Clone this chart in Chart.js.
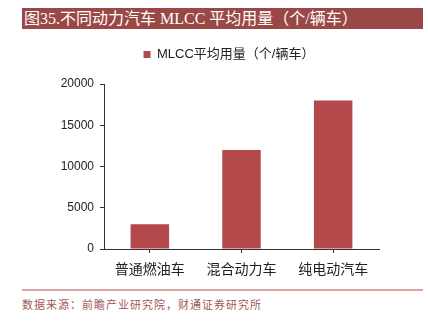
<!DOCTYPE html>
<html><head><meta charset="utf-8">
<script src="https://cdn.jsdelivr.net/npm/chart.js@4/dist/chart.umd.min.js"></script>
<style>
html,body{margin:0;padding:0;background:#fff;width:428px;height:323px;overflow:hidden;position:relative}
#title{position:absolute;left:22px;top:8px;width:401px;height:21px;background:#9a4846;color:#fff;
 font-family:"Liberation Serif","Noto Sans CJK SC",serif;font-size:16px;line-height:21px;padding-left:2px;box-sizing:border-box;white-space:nowrap}
#line{position:absolute;left:22px;top:289px;width:401px;height:2px;background:#dba3a3}
#src{position:absolute;left:22px;top:296px;color:#a0585a;font-family:"Liberation Serif","Noto Sans CJK SC",serif;font-size:11px;letter-spacing:1px;white-space:nowrap}
#wrap{position:absolute;left:0;top:35px;width:428px;height:245px}
</style></head><body>
<div id="title">图35.不同动力汽车 MLCC 平均用量（个/辆车）</div>
<div id="wrap"><canvas id="c"></canvas></div>
<div id="line"></div>
<div id="src">数据来源：前瞻产业研究院，财通证券研究所</div>
<script>
const categories = ["普通燃油车", "混合动力车", "纯电动汽车"];
const seriesName = "MLCC平均用量（个/辆车）";
const values = [3000, 12000, 18000];
const yTicks = [0, 5000, 10000, 15000, 20000];

const legendSpace = {
  id: 'legendSpace',
  afterInit(chart) {
    const lg = chart.legend;
    if (!lg) return;
    const orig = lg.fit;
    lg.fit = function () { orig.call(this); this.height += 13; };
  }
};

new Chart(document.getElementById('c'), {
  type: 'bar',
  data: {
    labels: categories,
    datasets: [{
      label: seriesName,
      data: values,
      backgroundColor: '#b3494a',
      borderWidth: 0,
      categoryPercentage: 0.84,
      barPercentage: 0.5
    }]
  },
  plugins: [legendSpace],
  options: {
    responsive: true,
    maintainAspectRatio: false,
    animation: false,
    layout: { padding: { left: 30, right: 0, top: 3, bottom: 0 } },
    plugins: {
      tooltip: { enabled: false },
      legend: {
        position: 'top',
        labels: {
          boxWidth: 7, boxHeight: 7, padding: 10,
          color: '#222',
          font: { family: 'Liberation Sans, Noto Sans CJK SC, sans-serif', size: 13 }
        }
      }
    },
    scales: {
      x: {
        offset: true,
        grid: { display: true, drawOnChartArea: false, offset: false, color: '#333', tickLength: 4 },
        border: { color: '#333', width: 1 },
        ticks: { color: '#222', padding: 7, font: { family: 'Noto Sans CJK SC, sans-serif', size: 14 } },
        afterFit: s => { s.height = 31; }
      },
      y: {
        min: 0, max: 20000,
        afterBuildTicks: s => { s.ticks = yTicks.map(v => ({ value: v })); },
        grid: { display: true, drawOnChartArea: false, color: '#333', tickLength: 4 },
        border: { color: '#333', width: 1 },
        ticks: { color: '#222', padding: 6, font: { family: 'Liberation Sans, Arial, sans-serif', size: 12 },
          callback: v => String(v) },
        afterFit: s => { s.width = 74; }
      },
      yR: {
        position: 'right',
        display: true,
        grid: { display: false },
        border: { display: false },
        ticks: { display: false },
        afterFit: s => { s.width = 49; }
      }
    }
  }
});
</script>
</body></html>
